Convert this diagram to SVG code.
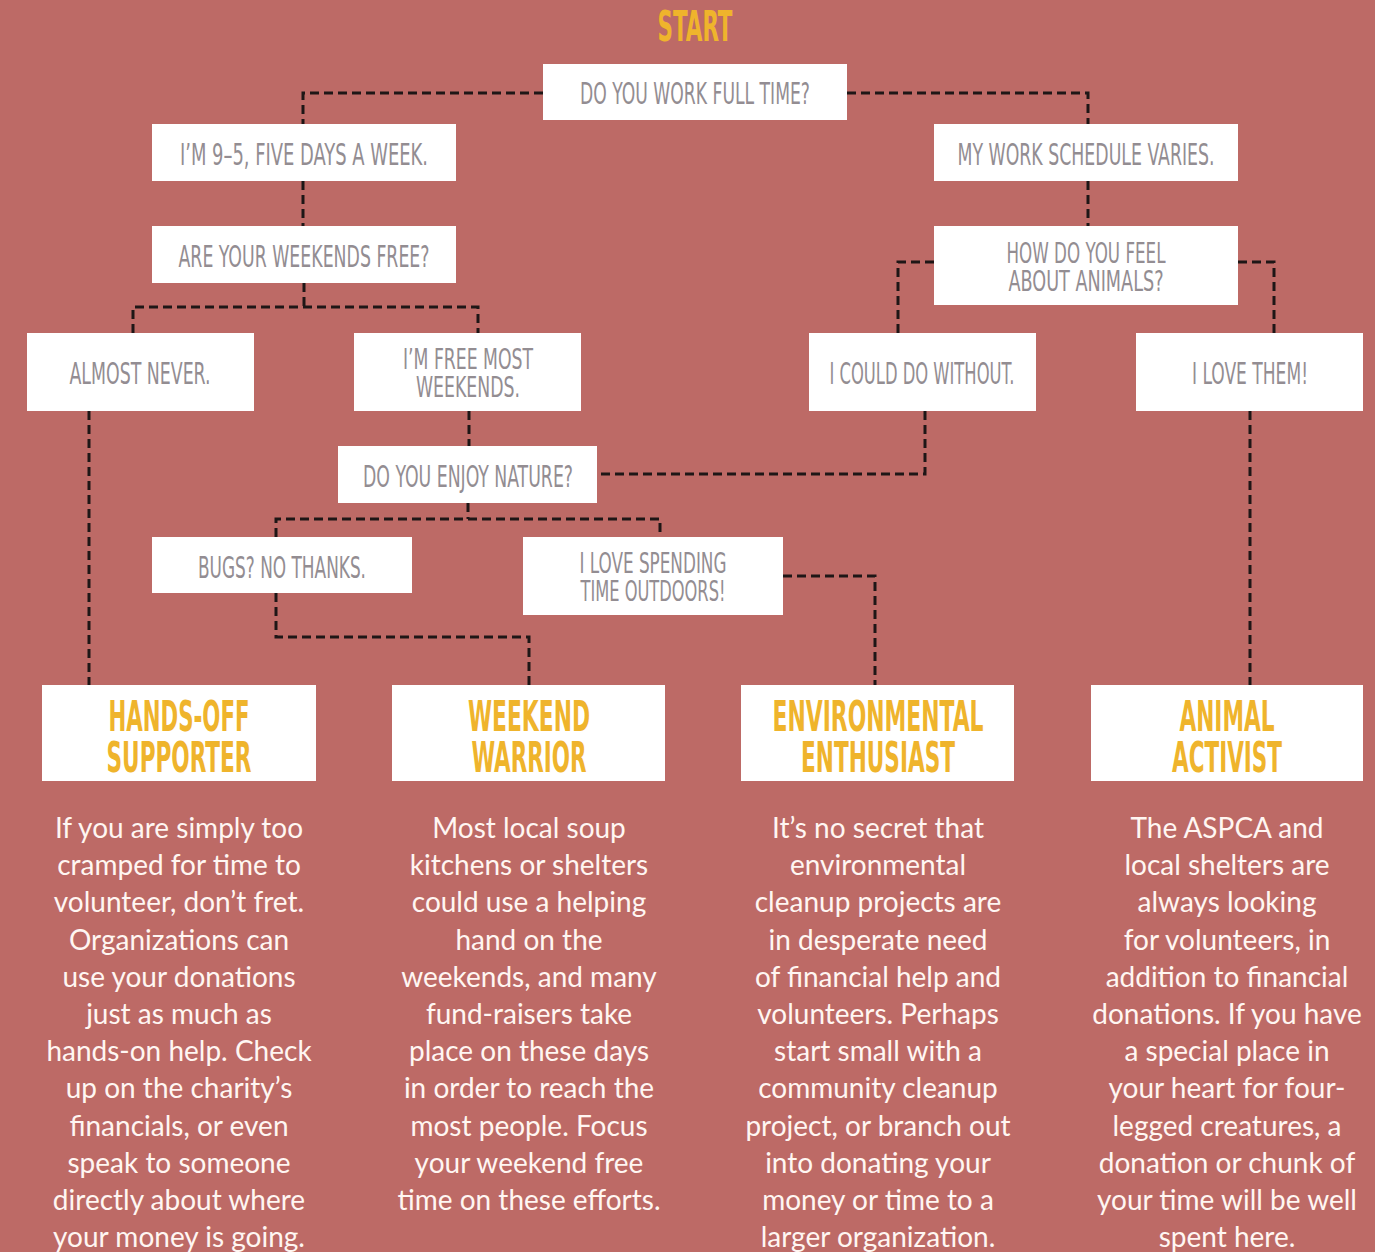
<svg xmlns="http://www.w3.org/2000/svg" width="1375" height="1252" viewBox="0 0 1375 1252">
<style>
.bg{fill:#BD6A66}
.box{fill:#FFFFFF}
.lbl{font-family:"Liberation Sans Narrow","DejaVu Sans Condensed","Liberation Sans",sans-serif;font-size:30px;fill:#938D92;text-anchor:middle}
.lbl2{font-size:28px}
.ttl{font-family:"Liberation Sans Narrow","DejaVu Sans Condensed","Liberation Sans",sans-serif;font-size:42px;font-weight:bold;fill:#EFB42C;text-anchor:middle}
.body{font-family:Lato,"Open Sans",sans-serif;font-size:28px;fill:#FFF6F2;text-anchor:middle}
.con{fill:none;stroke:#1E1616;stroke-width:3;stroke-dasharray:9 5}
</style>
<rect class="bg" x="0" y="0" width="1375" height="1252"/>
<text class="ttl" x="695" y="41" font-size="40" textLength="75" lengthAdjust="spacingAndGlyphs">START</text>
<g id="connectors">
<path class="con" d="M543 93 H303 V124"/>
<path class="con" d="M847 93 H1088 V124"/>
<path class="con" d="M303 181 V226"/>
<path class="con" d="M1088 181 V226"/>
<path class="con" d="M304 283 V307"/>
<path class="con" d="M133 333 V307 H478 V333"/>
<path class="con" d="M89 411 V685"/>
<path class="con" d="M469 411 V446"/>
<path class="con" d="M934 262 H898 V333"/>
<path class="con" d="M1238 262 H1274 V333"/>
<path class="con" d="M925 411 V474 H597"/>
<path class="con" d="M1250 411 V685"/>
<path class="con" d="M468 503 V519"/>
<path class="con" d="M276 537 V519 H660 V537"/>
<path class="con" d="M276 593 V637 H529 V685"/>
<path class="con" d="M783 576 H875 V685"/>
</g>
<g id="q-fulltime"><rect class="box" x="543" y="64" width="304" height="56"/><text class="lbl" x="695" y="104" textLength="230" lengthAdjust="spacingAndGlyphs">DO YOU WORK FULL TIME?</text></g>
<g id="a-95"><rect class="box" x="152" y="124" width="304" height="57"/><text class="lbl" x="304" y="165" textLength="248" lengthAdjust="spacingAndGlyphs">I’M 9–5, FIVE DAYS A WEEK.</text></g>
<g id="a-varies"><rect class="box" x="934" y="124" width="304" height="57"/><text class="lbl" x="1086" y="165" textLength="257" lengthAdjust="spacingAndGlyphs">MY WORK SCHEDULE VARIES.</text></g>
<g id="q-weekends"><rect class="box" x="152" y="226" width="304" height="57"/><text class="lbl" x="304" y="267" textLength="251" lengthAdjust="spacingAndGlyphs">ARE YOUR WEEKENDS FREE?</text></g>
<g id="q-animals"><rect class="box" x="934" y="226" width="304" height="79"/><text class="lbl lbl2" x="1086" y="263" textLength="159" lengthAdjust="spacingAndGlyphs">HOW DO YOU FEEL</text><text class="lbl lbl2" x="1086" y="291" textLength="155" lengthAdjust="spacingAndGlyphs">ABOUT ANIMALS?</text></g>
<g id="a-never"><rect class="box" x="27" y="333" width="227" height="78"/><text class="lbl" x="140" y="384" textLength="141" lengthAdjust="spacingAndGlyphs">ALMOST NEVER.</text></g>
<g id="a-free"><rect class="box" x="354" y="333" width="227" height="78"/><text class="lbl lbl2" x="468" y="369" textLength="130" lengthAdjust="spacingAndGlyphs">I’M FREE MOST</text><text class="lbl lbl2" x="468" y="397" textLength="104" lengthAdjust="spacingAndGlyphs">WEEKENDS.</text></g>
<g id="a-without"><rect class="box" x="809" y="333" width="227" height="78"/><text class="lbl" x="922" y="384" textLength="185" lengthAdjust="spacingAndGlyphs">I COULD DO WITHOUT.</text></g>
<g id="a-love"><rect class="box" x="1136" y="333" width="227" height="78"/><text class="lbl" x="1250" y="384" textLength="116" lengthAdjust="spacingAndGlyphs">I LOVE THEM!</text></g>
<g id="q-nature"><rect class="box" x="338" y="446" width="259" height="57"/><text class="lbl" x="468" y="487" textLength="210" lengthAdjust="spacingAndGlyphs">DO YOU ENJOY NATURE?</text></g>
<g id="a-bugs"><rect class="box" x="152" y="537" width="260" height="56"/><text class="lbl" x="282" y="578" textLength="168" lengthAdjust="spacingAndGlyphs">BUGS? NO THANKS.</text></g>
<g id="a-outdoors"><rect class="box" x="523" y="537" width="260" height="78"/><text class="lbl lbl2" x="653" y="573" textLength="147" lengthAdjust="spacingAndGlyphs">I LOVE SPENDING</text><text class="lbl lbl2" x="653" y="601" textLength="145" lengthAdjust="spacingAndGlyphs">TIME OUTDOORS!</text></g>
<g id="r-handsoff"><rect class="box" x="42" y="685" width="274" height="96"/><text class="ttl" x="179" y="731" textLength="141" lengthAdjust="spacingAndGlyphs">HANDS-OFF</text><text class="ttl" x="179" y="772" textLength="145" lengthAdjust="spacingAndGlyphs">SUPPORTER</text>
<text class="body" x="179"><tspan x="179" y="838">If you are simply too</tspan><tspan x="179" y="875.2">cramped for time to</tspan><tspan x="179" y="912.4">volunteer, don’t fret.</tspan><tspan x="179" y="949.6">Organizations can</tspan><tspan x="179" y="986.8">use your donations</tspan><tspan x="179" y="1024">just as much as</tspan><tspan x="179" y="1061.2">hands-on help. Check</tspan><tspan x="179" y="1098.4">up on the charity’s</tspan><tspan x="179" y="1135.6">financials, or even</tspan><tspan x="179" y="1172.8">speak to someone</tspan><tspan x="179" y="1210">directly about where</tspan><tspan x="179" y="1247.2">your money is going.</tspan></text></g>
<g id="r-weekend"><rect class="box" x="392" y="685" width="273" height="96"/><text class="ttl" x="529" y="731" textLength="122" lengthAdjust="spacingAndGlyphs">WEEKEND</text><text class="ttl" x="529" y="772" textLength="115" lengthAdjust="spacingAndGlyphs">WARRIOR</text>
<text class="body"><tspan x="529" y="838">Most local soup</tspan><tspan x="529" y="875.2">kitchens or shelters</tspan><tspan x="529" y="912.4">could use a helping</tspan><tspan x="529" y="949.6">hand on the</tspan><tspan x="529" y="986.8">weekends, and many</tspan><tspan x="529" y="1024">fund-raisers take</tspan><tspan x="529" y="1061.2">place on these days</tspan><tspan x="529" y="1098.4">in order to reach the</tspan><tspan x="529" y="1135.6">most people. Focus</tspan><tspan x="529" y="1172.8">your weekend free</tspan><tspan x="529" y="1210">time on these efforts.</tspan></text></g>
<g id="r-environmental"><rect class="box" x="741" y="685" width="273" height="96"/><text class="ttl" x="878" y="731" textLength="211" lengthAdjust="spacingAndGlyphs">ENVIRONMENTAL</text><text class="ttl" x="878" y="772" textLength="154" lengthAdjust="spacingAndGlyphs">ENTHUSIAST</text>
<text class="body"><tspan x="878" y="838">It’s no secret that</tspan><tspan x="878" y="875.2">environmental</tspan><tspan x="878" y="912.4">cleanup projects are</tspan><tspan x="878" y="949.6">in desperate need</tspan><tspan x="878" y="986.8">of financial help and</tspan><tspan x="878" y="1024">volunteers. Perhaps</tspan><tspan x="878" y="1061.2">start small with a</tspan><tspan x="878" y="1098.4">community cleanup</tspan><tspan x="878" y="1135.6">project, or branch out</tspan><tspan x="878" y="1172.8">into donating your</tspan><tspan x="878" y="1210">money or time to a</tspan><tspan x="878" y="1247.2">larger organization.</tspan></text></g>
<g id="r-animal"><rect class="box" x="1091" y="685" width="272" height="96"/><text class="ttl" x="1227" y="731" textLength="95" lengthAdjust="spacingAndGlyphs">ANIMAL</text><text class="ttl" x="1227" y="772" textLength="110" lengthAdjust="spacingAndGlyphs">ACTIVIST</text>
<text class="body"><tspan x="1227" y="838">The ASPCA and</tspan><tspan x="1227" y="875.2">local shelters are</tspan><tspan x="1227" y="912.4">always looking</tspan><tspan x="1227" y="949.6">for volunteers, in</tspan><tspan x="1227" y="986.8">addition to financial</tspan><tspan x="1227" y="1024">donations. If you have</tspan><tspan x="1227" y="1061.2">a special place in</tspan><tspan x="1227" y="1098.4">your heart for four-</tspan><tspan x="1227" y="1135.6">legged creatures, a</tspan><tspan x="1227" y="1172.8">donation or chunk of</tspan><tspan x="1227" y="1210">your time will be well</tspan><tspan x="1227" y="1247.2">spent here.</tspan></text></g>
</svg>
